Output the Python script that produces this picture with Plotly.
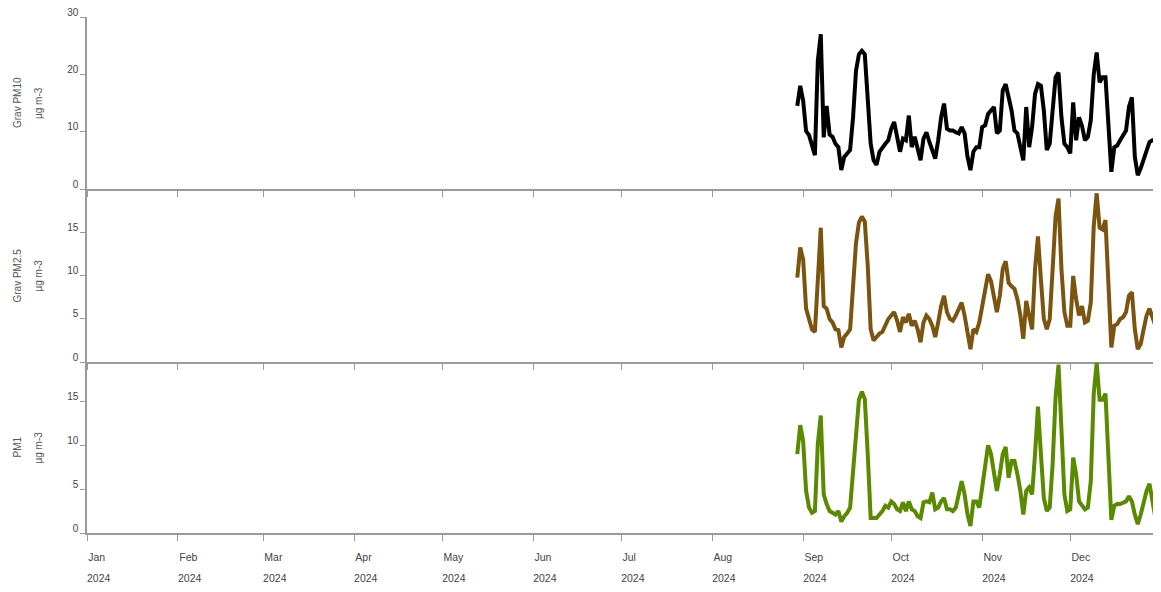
import pandas as pd
import plotly.graph_objects as go

# ---- data (daily, 30 Aug 2024 - 31 Dec 2024) ----
start_date = "2024-08-30"

pm10 = [
    14.5, 18.0,
    15.4, 10.1, 9.4, 7.3, 5.9, 22.4, 27.0, 9.0, 14.5, 9.5,
    9.1, 7.9, 7.3, 3.3, 5.6, 6.2, 6.8, 12.5, 20.6, 23.5,
    24.1, 23.5, 16.6, 7.9, 5.0, 4.2, 6.5, 7.3, 7.9, 8.5,
    10.5, 11.7, 9.1, 6.5, 8.8, 8.5, 12.8, 7.3, 9.1, 7.3,
    5.0, 8.8, 9.9, 8.2, 6.8, 5.3, 8.5, 12.5, 14.9, 10.5,
    10.2, 10.2, 9.9, 9.7, 10.8, 9.7, 5.6, 3.3, 6.5, 7.3,
    7.3,
    10.8, 11.1, 13.1, 13.7, 14.3, 9.7, 10.2, 17.2, 18.3, 16.0,
    13.7, 10.2, 9.7, 7.3, 5.0, 14.3, 7.3, 10.8, 16.6, 18.3,
    18.0, 13.7, 6.8, 7.9, 13.1, 19.5, 20.3, 12.5, 7.9, 7.3,
    6.2, 15.1, 8.5, 12.5, 11.0, 8.5, 9.1, 12.0, 20.0, 23.8,
    18.6, 19.5, 19.5, 9.7, 3.0, 7.3, 7.6, 8.5, 9.4, 10.2,
    14.3, 16.0, 5.6, 2.4, 3.6, 5.0, 6.5, 8.2, 8.5, 8.5,
    9.7,
]

pm25 = [
    9.8, 13.3,
    11.9, 6.2, 5.0, 3.8, 3.5, 10.8, 15.6, 6.5, 6.2, 5.0,
    4.6, 3.8, 3.7, 1.7, 2.9, 3.3, 3.8, 8.8, 13.8, 16.2,
    16.9, 16.3, 11.2, 3.8, 2.5, 2.9, 3.3, 3.5, 4.2, 5.0,
    5.4, 5.8, 4.8, 3.5, 5.2, 4.6, 5.6, 4.2, 4.8, 3.8,
    2.3, 4.6, 5.4, 5.0, 4.2, 2.9, 4.6, 6.5, 7.7, 5.8,
    5.0, 4.8, 5.4, 6.2, 6.9, 5.4, 3.5, 1.5, 3.8, 3.5,
    4.6,
    6.5, 8.8, 10.2, 9.4, 7.7, 5.8, 7.7, 10.8, 11.7, 9.2,
    8.8, 8.5, 7.3, 5.4, 2.7, 7.1, 5.4, 3.8, 10.8, 14.6,
    9.6, 5.0, 3.8, 5.0, 10.8, 16.9, 19.0, 10.8, 5.8, 4.2,
    4.2, 10.0, 7.3, 5.4, 6.5, 4.6, 4.8, 6.9, 15.8, 19.6,
    15.6, 15.4, 16.5, 9.6, 1.7, 4.2, 4.4, 5.0, 5.2, 5.8,
    7.7, 8.1, 3.8, 1.5, 2.1, 3.8, 5.4, 6.2, 5.0, 4.2,
    5.2,
]

pm1 = [
    9.0, 12.3,
    10.5, 4.8, 2.9, 2.3, 2.5, 10.2, 13.4, 4.4, 3.3, 2.5,
    2.3, 2.1, 2.5, 1.3, 1.9, 2.3, 2.9, 7.5, 12.1, 15.2,
    16.1, 15.3, 9.0, 1.7, 1.7, 1.7, 2.1, 2.5, 3.1, 2.9,
    3.6, 3.3, 2.7, 2.5, 3.5, 2.5, 3.6, 2.7, 2.5, 1.9,
    1.7, 3.5, 3.6, 3.5, 4.6, 2.7, 2.9, 3.6, 4.0, 2.7,
    2.7, 2.5, 2.9, 4.4, 5.9, 4.4, 2.1, 0.8, 3.6, 3.6,
    2.9,
    5.2, 7.9, 10.0, 9.0, 6.7, 4.8, 6.7, 9.0, 9.8, 6.3,
    8.2, 8.2, 6.7, 4.8, 2.1, 4.8, 5.2, 4.4, 9.0, 14.4,
    9.0, 4.0, 2.5, 2.9, 7.9, 15.5, 19.2, 11.7, 4.4, 2.5,
    2.7, 8.6, 6.7, 3.6, 3.1, 2.7, 2.9, 5.9, 15.9, 19.4,
    15.2, 15.2, 15.9, 9.4, 1.5, 3.1, 3.3, 3.3, 3.5, 3.6,
    4.2, 3.6, 2.1, 1.0, 2.1, 3.6, 4.8, 5.6, 3.3, 1.7,
    3.0,
]

dates = pd.date_range(start_date, periods=len(pm10), freq="D")

panel_titles = [("Grav PM10", "µg m-3"), ("Grav PM2.5", "µg m-3"), ("PM1", "µg m-3")]
y_ticks = [[0, 10, 20, 30], [0, 5, 10, 15], [0, 5, 10, 15]]
y_ranges = [[0, 30], [0, 20.1], [0, 19.5]]
colors = ["#000000", "#7b5410", "#5a8a00"]
series = [pm10, pm25, pm1]

x_range = ["2024-01-01", "2024-12-31 22:00"]

# ---- figure (page adds an 8px body margin; keep the page free of scrollbars) ----
W, H = 1153, 576
ml, mr, mt, mb = 79, 0, 9, 51
plot_h = H - mt - mb
dom_bottom = [0, 171 / plot_h]
dom_middle = [171 / plot_h, 344 / plot_h]
dom_top = [344 / plot_h, 1]
domains = [dom_top, dom_middle, dom_bottom]

axis_grey = "#9a9a9a"
label_col = "#555555"
font_family = "Liberation Sans, Arial, sans-serif"

fig = go.Figure()
for i, (vals, col) in enumerate(zip(series, colors)):
    fig.add_trace(go.Scatter(
        x=dates, y=vals, mode="lines",
        line=dict(color=col, width=4),
        xaxis=f"x{i+1}", yaxis=f"y{i+1}", showlegend=False,
    ))
# helper trace for the year-label axis
fig.add_trace(go.Scatter(x=[dates[0]], y=[None], xaxis="x4", yaxis="y3",
                         showlegend=False, hoverinfo="skip"))

layout = dict(
    width=W, height=H,
    margin=dict(l=ml, r=mr, t=mt, b=mb, autoexpand=False),
    paper_bgcolor="white", plot_bgcolor="white",
    font=dict(family=font_family, size=10, color=label_col),
    showlegend=False,
)

for i in range(3):
    xa = dict(
        domain=[0, 1], range=x_range, type="date", anchor=f"y{i+1}",
        showgrid=False, zeroline=False, automargin=False,
        showline=True, linecolor=axis_grey, linewidth=1.5,
        ticks="outside", ticklen=6, tickcolor=axis_grey, tickwidth=1,
        dtick="M1", tick0="2024-01-01",
        showticklabels=(i == 2),
    )
    if i == 2:
        xa.update(tickformat="%b", ticklabelposition="outside right",
                  ticklabelstandoff=14, ticklabeloverflow="allow",
                  tickfont=dict(size=10.5, color="#444444"))
    if i > 0:
        xa["matches"] = "x"
    layout[f"xaxis{i+1}" if i > 0 else "xaxis"] = xa

    ya = dict(
        domain=domains[i], range=y_ranges[i], anchor=f"x{i+1}",
        showgrid=False, zeroline=False, automargin=False,
        showline=True, linecolor=axis_grey, linewidth=1.5,
        ticks="outside", ticklen=5, tickcolor=axis_grey, tickwidth=1,
        tickvals=y_ticks[i], ticklabelshift=-5, ticklabeloverflow="allow",
        ticklabelstandoff=0,
        tickfont=dict(size=10, color="#444444"),
    )
    layout[f"yaxis{i+1}" if i > 0 else "yaxis"] = ya

layout["xaxis4"] = dict(
    overlaying="x3", anchor="y3", side="bottom", matches="x",
    range=x_range, type="date", automargin=False,
    showgrid=False, zeroline=False, showline=False, ticks="",
    dtick="M1", tick0="2024-01-01", tickformat="%Y",
    ticklabelposition="outside right", ticklabelstandoff=37,
    ticklabeloverflow="allow",
    tickfont=dict(size=10.5, color="#444444"),
)

fig.update_layout(**layout)

# two-line rotated y titles (screen x positions 17 and 38)
plot_w = W - ml - mr
for i, (t1, t2) in enumerate(panel_titles):
    yc = (domains[i][0] + domains[i][1]) / 2
    for txt, px in ((t1, 17), (t2, 38)):
        fig.add_annotation(
            text=txt, textangle=-90, showarrow=False,
            xref="paper", yref="paper",
            x=(px - 8 - ml) / plot_w, y=yc, xanchor="center", yanchor="middle",
            font=dict(family=font_family, size=10, color=label_col),
        )

fig.write_html("out.html")
